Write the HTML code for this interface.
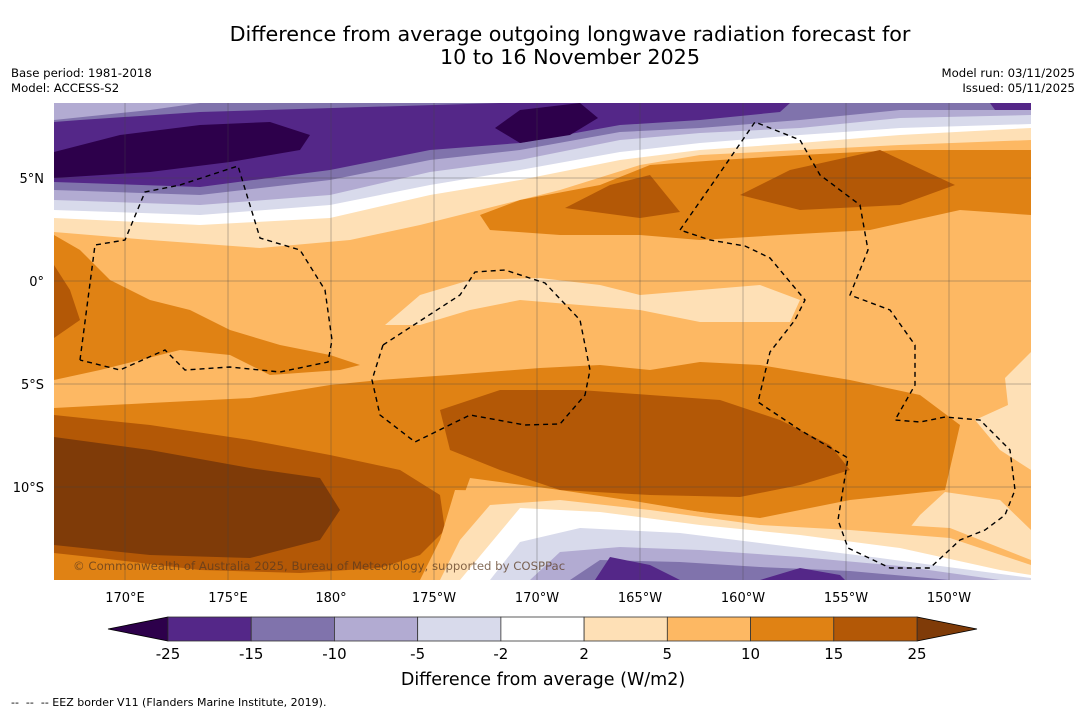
<!DOCTYPE html>
<html><head><meta charset="utf-8">
<style>
body{margin:0;background:#fff;width:1085px;height:713px;overflow:hidden;font-family:"DejaVu Sans","Liberation Sans",sans-serif;}
svg{position:absolute;left:0;top:0}
</style></head>
<body>
<svg width="1085" height="713" viewBox="0 0 1085 713" xmlns="http://www.w3.org/2000/svg" font-family="DejaVu Sans, Liberation Sans, sans-serif">
<text x="570" y="41" font-size="20.7" text-anchor="middle">Difference from average outgoing longwave radiation forecast for</text>
<text x="570" y="64" font-size="20.7" text-anchor="middle">10 to 16 November 2025</text>
<text x="11" y="77" font-size="11.7">Base period: 1981-2018</text>
<text x="11" y="92" font-size="11.7">Model: ACCESS-S2</text>
<text x="1075" y="77" font-size="11.7" text-anchor="end">Model run: 03/11/2025</text>
<text x="1075" y="92" font-size="11.7" text-anchor="end">Issued: 05/11/2025</text>
<defs><clipPath id="mc"><rect x="54" y="103" width="977" height="477"/></clipPath></defs>
<g id="map" clip-path="url(#mc)">
<rect x="54" y="103" width="977" height="477" fill="#fdb863"/>
<path fill="#fee0b6" d="M54,103 L1031,103 L1031,140 L900,145 L800,150 L700,155 L640,165 L560,190 L480,210 L420,225 L350,240 L260,248 L150,240 L54,232Z"/>
<path fill="#e08214" d="M480,215 L520,200 L600,185 L650,165 L720,160 L800,155 L900,150 L1031,150 L1031,215 L960,210 L870,230 L780,235 L700,240 L640,235 L560,235 L490,230Z"/>
<path fill="#b35806" d="M565,208 L610,185 L650,175 L680,212 L640,218Z"/>
<path fill="#b35806" d="M740,195 L790,170 L880,150 L955,185 L900,205 L800,210Z"/>
<path fill="#ffffff" d="M54,103 L1031,103 L1031,128 L900,135 L800,143 L700,150 L620,160 L520,180 L430,195 L330,218 L200,225 L54,218Z"/>
<path fill="#d8daeb" d="M54,103 L1031,103 L1031,124 L900,128 L800,135 L700,143 L620,152 L520,170 L430,185 L330,205 L200,215 L54,210Z"/>
<path fill="#b2abd2" d="M54,103 L1031,103 L1031,115 L900,118 L800,128 L700,133 L620,140 L520,160 L430,172 L330,195 L200,205 L54,200Z"/>
<path fill="#8073ac" d="M54,103 L1031,103 L1031,110 L900,110 L800,120 L700,128 L620,132 L520,150 L430,160 L330,180 L200,195 L54,190Z"/>
<path fill="#542788" d="M54,122 L80,120 L200,112 L500,103 L790,103 L780,112 L700,120 L620,125 L520,143 L430,150 L330,170 L200,187 L54,182Z"/>
<path fill="#b2abd2" d="M54,103 L200,103 L150,110 L54,120Z"/>
<path fill="#2d004b" d="M54,152 L120,135 L200,125 L270,122 L310,135 L300,150 L230,162 L150,172 L54,178Z"/>
<path fill="#2d004b" d="M495,128 L520,110 L580,103 L598,118 L570,135 L520,143Z"/>
<path fill="#542788" d="M990,103 L1031,103 L1031,110 L995,110Z"/>
<path fill="#e08214" d="M54,235 L80,250 L110,280 L150,300 L190,310 L230,330 L280,345 L330,355 L360,365 L340,370 L270,375 L230,355 L180,350 L140,360 L100,370 L54,380Z"/>
<path fill="#b35806" d="M54,265 L70,290 L80,320 L54,338Z"/>
<path fill="#fee0b6" d="M385,325 L420,295 L470,280 L540,278 L600,285 L640,295 L700,290 L760,285 L800,300 L790,322 L700,322 L640,310 L580,305 L520,300 L470,310 L420,325Z"/>
<path fill="#fee0b6" d="M1031,352 L1005,378 L1008,405 L975,420 L1000,450 L1031,470Z"/>
<path fill="#e08214" d="M54,408 L150,403 L250,398 L330,385 L380,380 L450,375 L540,368 L600,365 L650,370 L700,362 L760,365 L850,380 L920,395 L960,425 L945,490 L850,500 L760,518 L700,512 L640,502 L560,490 L470,478 L455,520 L460,560 L440,580 L54,580Z"/>
<path fill="#fee0b6" d="M945,492 L1000,500 L1031,530 L1031,562 L940,555 L900,540 L920,515Z"/>
<path fill="#b35806" d="M54,415 L150,425 L250,440 L330,455 L400,470 L440,495 L445,530 L420,555 L380,568 L300,573 L200,570 L100,558 L54,553Z"/>
<path fill="#7f3b08" d="M54,437 L150,450 L250,468 L320,478 L340,510 L320,540 L250,558 L150,555 L54,545Z"/>
<path fill="#b35806" d="M440,410 L500,390 L580,390 L650,395 L720,400 L780,420 L830,445 L850,470 L800,485 L740,497 L650,495 L560,490 L500,470 L450,450Z"/>
<path fill="#fdb863" d="M420,580 L440,540 L455,490 L560,492 L650,505 L760,520 L850,522 L950,528 L1031,560 L1031,580Z"/>
<path fill="#fee0b6" d="M440,580 L460,540 L490,505 L560,500 L650,510 L760,525 L850,530 L950,538 L1031,565 L1031,580Z"/>
<path fill="#ffffff" d="M460,580 L485,550 L520,508 L600,512 L700,525 L800,535 L900,548 L1000,570 L1031,575 L1031,580Z"/>
<path fill="#d8daeb" d="M490,580 L520,542 L580,528 L680,533 L760,543 L880,558 L1031,578 L1031,580Z"/>
<path fill="#b2abd2" d="M530,580 L560,552 L620,547 L700,550 L800,557 L900,566 L1000,580Z"/>
<path fill="#8073ac" d="M570,580 L600,560 L680,562 L760,567 L850,571 L950,580Z"/>
<path fill="#542788" d="M595,580 L610,557 L650,565 L680,580Z"/>
<path fill="#542788" d="M760,580 L800,568 L840,575 L845,580Z"/>
<g id="grid" stroke="#444" stroke-width="0.5" stroke-opacity="0.7"></g>
<g fill="none" stroke="#000" stroke-width="1.4" stroke-dasharray="5,4">
<path d="M80,360 L95,245 L125,240 L145,192 L180,185 L238,166 L260,238 L300,250 L325,290 L332,340 L328,362 L280,372 L230,367 L185,370 L165,350 L120,370 L80,360"/>
<path d="M383,345 L460,295 L475,272 L505,270 L545,283 L580,320 L590,370 L585,395 L560,424 L525,425 L470,415 L415,442 L380,415 L372,380 L383,345"/>
<path d="M680,230 L715,180 L755,122 L800,140 L820,175 L860,205 L868,250 L850,295 L890,310 L915,345 L915,385 L895,420 L920,422 L945,417 L980,420 L1010,450 L1015,490 L1005,515 L985,530 L960,540 L930,568 L890,568 L848,548 L838,520 L848,458 L800,430 L758,402 L770,352 L795,320 L805,300 L770,258 L745,246 L710,240 L680,230"/>
</g>
<text x="73" y="570" font-size="11.7" fill="#5a3a20" fill-opacity="0.75">© Commonwealth of Australia 2025, Bureau of Meteorology, supported by COSPPac</text>
</g>
<g id="axes"></g>
<g id="cbar"></g>
<text x="543" y="685" font-size="17.5" text-anchor="middle">Difference from average (W/m2)</text>
<text x="11" y="706" font-size="11" xml:space="preserve">--  --  -- EEZ border V11 (Flanders Marine Institute, 2019).</text>
</svg>
<script>
const lonTicks=[170,175,180,185,190,195,200,205,210];
const lonLabels=["170°E","175°E","180°","175°W","170°W","165°W","160°W","155°W","150°W"];
const latTicks=[5,0,-5,-10];
const latLabels=["5°N","0°","5°S","10°S"];
const levels=[-25,-15,-10,-5,-2,2,5,10,15,25];
const colors=["#542788","#8073ac","#b2abd2","#d8daeb","#ffffff","#fee0b6","#fdb863","#e08214","#b35806"];
const extLow="#2d004b", extHigh="#7f3b08";
const NS="http://www.w3.org/2000/svg";
const xLon=l=>125+(l-170)*20.6;
const yLat=l=>281-l*20.6;
function mk(t,a,p){const e=document.createElementNS(NS,t);for(const k in a)e.setAttribute(k,a[k]);p.appendChild(e);return e;}
const grid=document.getElementById('grid'),axes=document.getElementById('axes'),cb=document.getElementById('cbar');
lonTicks.forEach((l,i)=>{const x=xLon(l);
 const g=mk('line',{x1:x,x2:x,y1:103,y2:580},grid);
 
 
 const t=mk('text',{x:x,y:602,'font-size':13,'text-anchor':'middle'},axes);t.textContent=lonLabels[i];
 
 });
latTicks.forEach((l,i)=>{const y=yLat(l);
 const g=mk('line',{x1:54,x2:1031,y1:y,y2:y},grid);
 
 
 const t=mk('text',{x:44,y:y+5,'font-size':13,'text-anchor':'end'},axes);t.textContent=latLabels[i];
 
 });
const x0=168,w=(917-168)/colors.length,y0=617,h=24;
const lo=mk('polygon',{points:`108,${y0+h/2} ${x0},${y0} ${x0},${y0+h}`,fill:extLow,stroke:'#000','stroke-width':0.8},cb);


const hi=mk('polygon',{points:`977,${y0+h/2} 917,${y0} 917,${y0+h}`,fill:extHigh,stroke:'#000','stroke-width':0.8},cb);


colors.forEach((c,i)=>{const r=mk('rect',{x:x0+i*w,y:y0,width:w,height:h,fill:c,stroke:'#333','stroke-width':0.8},cb);
 
 });
levels.forEach((v,i)=>{const t=mk('text',{x:x0+i*w,y:659,'font-size':15,'text-anchor':'middle'},cb);t.textContent=v;
 
 });
</script>
</body></html>
